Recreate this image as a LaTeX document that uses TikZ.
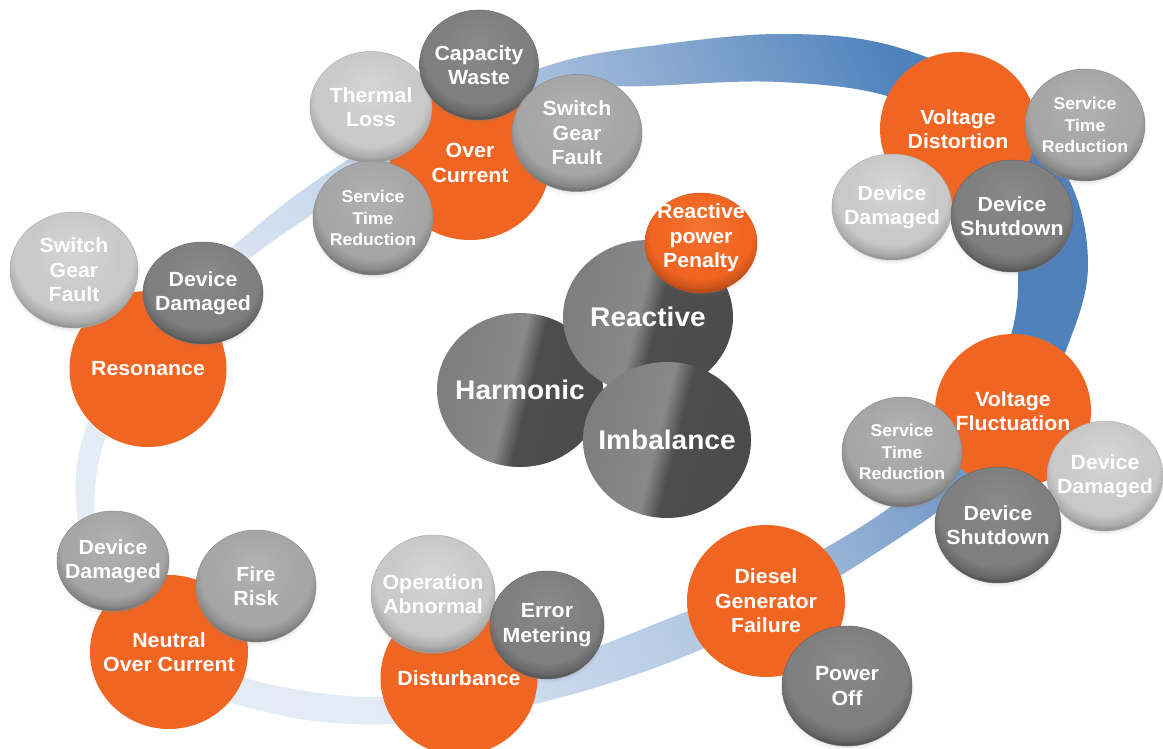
\documentclass[tikz,border=0pt]{standalone}
\usepackage{fontspec}
\setmainfont{Liberation Sans}[FakeStretch=1.04]
\usetikzlibrary{shapes.geometric,shadows}

% palette
\definecolor{hzorange}{RGB}{241,101,34}
\definecolor{ringA}{HTML}{E8EEF7}
\definecolor{ringB}{HTML}{E3EBF5}
\definecolor{ringC}{HTML}{C2D4E9}
\definecolor{ringD}{HTML}{A6BEDC}
\definecolor{ringE}{HTML}{6F97C6}
\definecolor{ringF}{HTML}{4F81BD}
% light / medium / dark grey and orange bevels
\definecolor{lgTop}{RGB}{214,214,214}\definecolor{lgBase}{RGB}{201,201,201}
\definecolor{lgRimA}{RGB}{172,172,172}\definecolor{lgRimB}{RGB}{128,128,128}
\definecolor{mdTop}{RGB}{178,178,178}\definecolor{mdBase}{RGB}{166,166,166}
\definecolor{mdRimA}{RGB}{138,138,138}\definecolor{mdRimB}{RGB}{96,96,96}
\definecolor{dkTop}{RGB}{138,138,138}\definecolor{dkBase}{RGB}{127,127,127}
\definecolor{dkRimA}{RGB}{104,104,104}\definecolor{dkRimB}{RGB}{70,70,70}
\definecolor{orTop}{RGB}{245,116,50}\definecolor{orBase}{RGB}{241,101,34}
\definecolor{orRimA}{RGB}{206,84,26}\definecolor{orRimB}{RGB}{160,64,18}
% central spheres
\definecolor{cA}{HTML}{7E7E7E}\definecolor{cB}{HTML}{898989}
\definecolor{cC}{HTML}{4D4D4D}\definecolor{cD}{HTML}{494949}

\pgfdeclareradialshading{bevelL}{\pgfpoint{0bp}{10bp}}{color(0bp)=(lgTop); color(18bp)=(lgBase); color(23bp)=(lgBase); color(27bp)=(lgRimA); color(30bp)=(lgRimB); color(50bp)=(lgRimB)}
\pgfdeclareradialshading{bevelM}{\pgfpoint{0bp}{10bp}}{color(0bp)=(mdTop); color(18bp)=(mdBase); color(23bp)=(mdBase); color(27bp)=(mdRimA); color(30bp)=(mdRimB); color(50bp)=(mdRimB)}
\pgfdeclareradialshading{bevelD}{\pgfpoint{0bp}{10bp}}{color(0bp)=(dkTop); color(18bp)=(dkBase); color(23bp)=(dkBase); color(27bp)=(dkRimA); color(30bp)=(dkRimB); color(50bp)=(dkRimB)}
\pgfdeclareradialshading{bevelO}{\pgfpoint{0bp}{10bp}}{color(0bp)=(orTop); color(18bp)=(orBase); color(23bp)=(orBase); color(27bp)=(orRimA); color(30bp)=(orRimB); color(50bp)=(orRimB)}
\pgfdeclarehorizontalshading{ringshade}{100bp}{color(0bp)=(ringA); color(32bp)=(ringB); color(44bp)=(ringC); color(55bp)=(ringD); color(67bp)=(ringE); color(73bp)=(ringF); color(100bp)=(ringF)}
\pgfdeclarehorizontalshading{sphereshade}{100bp}{color(0bp)=(cA); color(28bp)=(cA); color(47bp)=(cB); color(53bp)=(cC); color(100bp)=(cD)}

\newcommand\lblfont{\bfseries\fontsize{20.5}{24.5}\selectfont}
\newcommand\lblsmall{\bfseries\fontsize{17}{21.5}\selectfont}
\newcommand\lblbig{\bfseries\fontsize{27}{32}\selectfont}

% bubble: shape style, text style, name, centre, width, height, text
\newcommand\bubble[7]{%
  \node[#1, minimum width=#5pt, minimum height=#6pt] (#3) at #4 {};
  \node[#2] (#3-t) at (#3.center) {#7};}

\begin{document}
\begin{tikzpicture}[x=1pt,y=-1pt,
  shp/.style={ellipse, inner sep=0pt, outer sep=0pt},
  soft/.style={circular drop shadow={shadow scale=1.03, shadow xshift=0pt, shadow yshift=-2.5pt, opacity=0.35}},
  orangeb/.style={shp, fill=hzorange},
  lightb/.style={shp, soft, shade, shading=bevelL, draw=lgRimA, line width=0.5pt},
  medb/.style={shp, soft, shade, shading=bevelM, draw=mdRimA, line width=0.5pt},
  darkb/.style={shp, soft, shade, shading=bevelD, draw=dkRimA, line width=0.5pt},
  orbevel/.style={shp, soft, shade, shading=bevelO, draw=orRimA, line width=0.5pt},
  sphere/.style={shp, shade, shading=sphereshade, shading angle=-14},
  lbl/.style={text=white, align=center, inner sep=0pt, font=\lblfont},
  lbls/.style={lbl, font=\lblsmall},
  lblb/.style={lbl, font=\lblbig}]

\useasboundingbox (0,0) rectangle (1163,749);
\fill[white] (0,0) rectangle (1163,749);

% the loop behind all bubbles
\shade[shading=ringshade, shading angle=25, even odd rule]
  plot[smooth cycle, tension=0.6] coordinates {
    (380,140) (460,100) (560,62) (650,46) (779,34) (893,46) (1000,96)
    (1068,178) (1088,265) (1068,345) (1027,425) (962,492) (893,542)
    (775,614) (660,666) (535,704) (430,721) (350,724) (275,714) (200,690)
    (138,643) (95,582) (77,515) (82,440) (122,358) (178,292) (240,240) (300,192)}
  plot[smooth cycle, tension=0.6] coordinates {
    (310,216) (420,148) (533,92) (650,86) (779,82) (893,98) (968,148)
    (1008,215) (1018,290) (1002,360) (955,440) (893,505) (780,572)
    (660,622) (555,662) (460,688) (378,697) (300,690) (230,672) (165,632)
    (118,578) (95,519) (104,442) (145,362) (198,300) (250,258)};

% Resonance
\bubble{orangeb}{lbl}{res}{(148,369)}{157}{156}{Resonance}
\bubble{lightb}{lbl}{sgfA}{(74,270)}{128}{116}{Switch\\Gear\\Fault}
\bubble{darkb}{lbl}{ddA}{(203,293)}{120}{102}{Device\\Damaged}

% Over Current
\bubble{orangeb}{lbl}{oc}{(470,163)}{160}{154}{Over\\Current}
\bubble{lightb}{lbl}{thl}{(371,107)}{122}{111}{Thermal\\Loss}
\bubble{darkb}{lbl}{cw}{(479,65)}{119}{110}{Capacity\\Waste}
\bubble{medb}{lbl}{sgfB}{(577,133)}{130}{117}{Switch\\Gear\\Fault}
\bubble{medb}{lbls}{strA}{(373,218)}{120}{114}{Service\\Time\\Reduction}

% Voltage Distortion
\bubble{orangeb}{lbl}{vd}{(958,129)}{156}{154}{Voltage\\Distortion}
\bubble{medb}{lbls}{strB}{(1085,125)}{120}{112}{Service\\Time\\Reduction}
\bubble{lightb}{lbl}{ddB}{(892,207)}{120}{106}{Device\\Damaged}
\bubble{darkb}{lbl}{dsB}{(1012,216)}{122}{112}{Device\\Shutdown}

% Voltage Fluctuation
\bubble{orangeb}{lbl}{vf}{(1013,411)}{156}{154}{Voltage\\Fluctuation}
\bubble{lightb}{lbl}{ddC}{(1105,476)}{116}{110}{Device\\Damaged}
\bubble{medb}{lbls}{strC}{(902,452)}{120}{110}{Service\\Time\\Reduction}
\bubble{darkb}{lbl}{dsC}{(998,525)}{126}{116}{Device\\Shutdown}

% Diesel Generator Failure
\bubble{orangeb}{lbl}{dg}{(766,601)}{158}{152}{Diesel\\Generator\\Failure}
\bubble{darkb}{lbl}{po}{(847,686)}{130}{120}{Power\\Off}

% Disturbance
\bubble{orangeb}{lbl}{di}{(459,678)}{157}{154}{Disturbance}
\bubble{lightb}{lbl}{oa}{(433,594)}{124}{118}{Operation\\Abnormal}
\bubble{darkb}{lbl}{em}{(547,625)}{114}{108}{Error\\Metering}

% Neutral Over Current
\bubble{orangeb}{lbl}{no}{(169,652)}{158}{154}{Neutral\\Over Current}
\bubble{medb}{lbl}{ddD}{(113,561)}{112}{100}{Device\\Damaged}
\bubble{medb}{lbl}{fr}{(256,586)}{120}{112}{Fire\\Risk}

% central spheres
\bubble{sphere}{lblb}{harm}{(520,390)}{166}{154}{Harmonic}
\bubble{sphere}{lblb}{react}{(648,317)}{170}{154}{Reactive}
\bubble{sphere}{lblb}{imb}{(667,440)}{168}{156}{Imbalance}
\bubble{orbevel}{lbl, yshift=5pt}{rpp}{(701,243)}{112}{100}{Reactive\\power\\Penalty}

\end{tikzpicture}
\end{document}
